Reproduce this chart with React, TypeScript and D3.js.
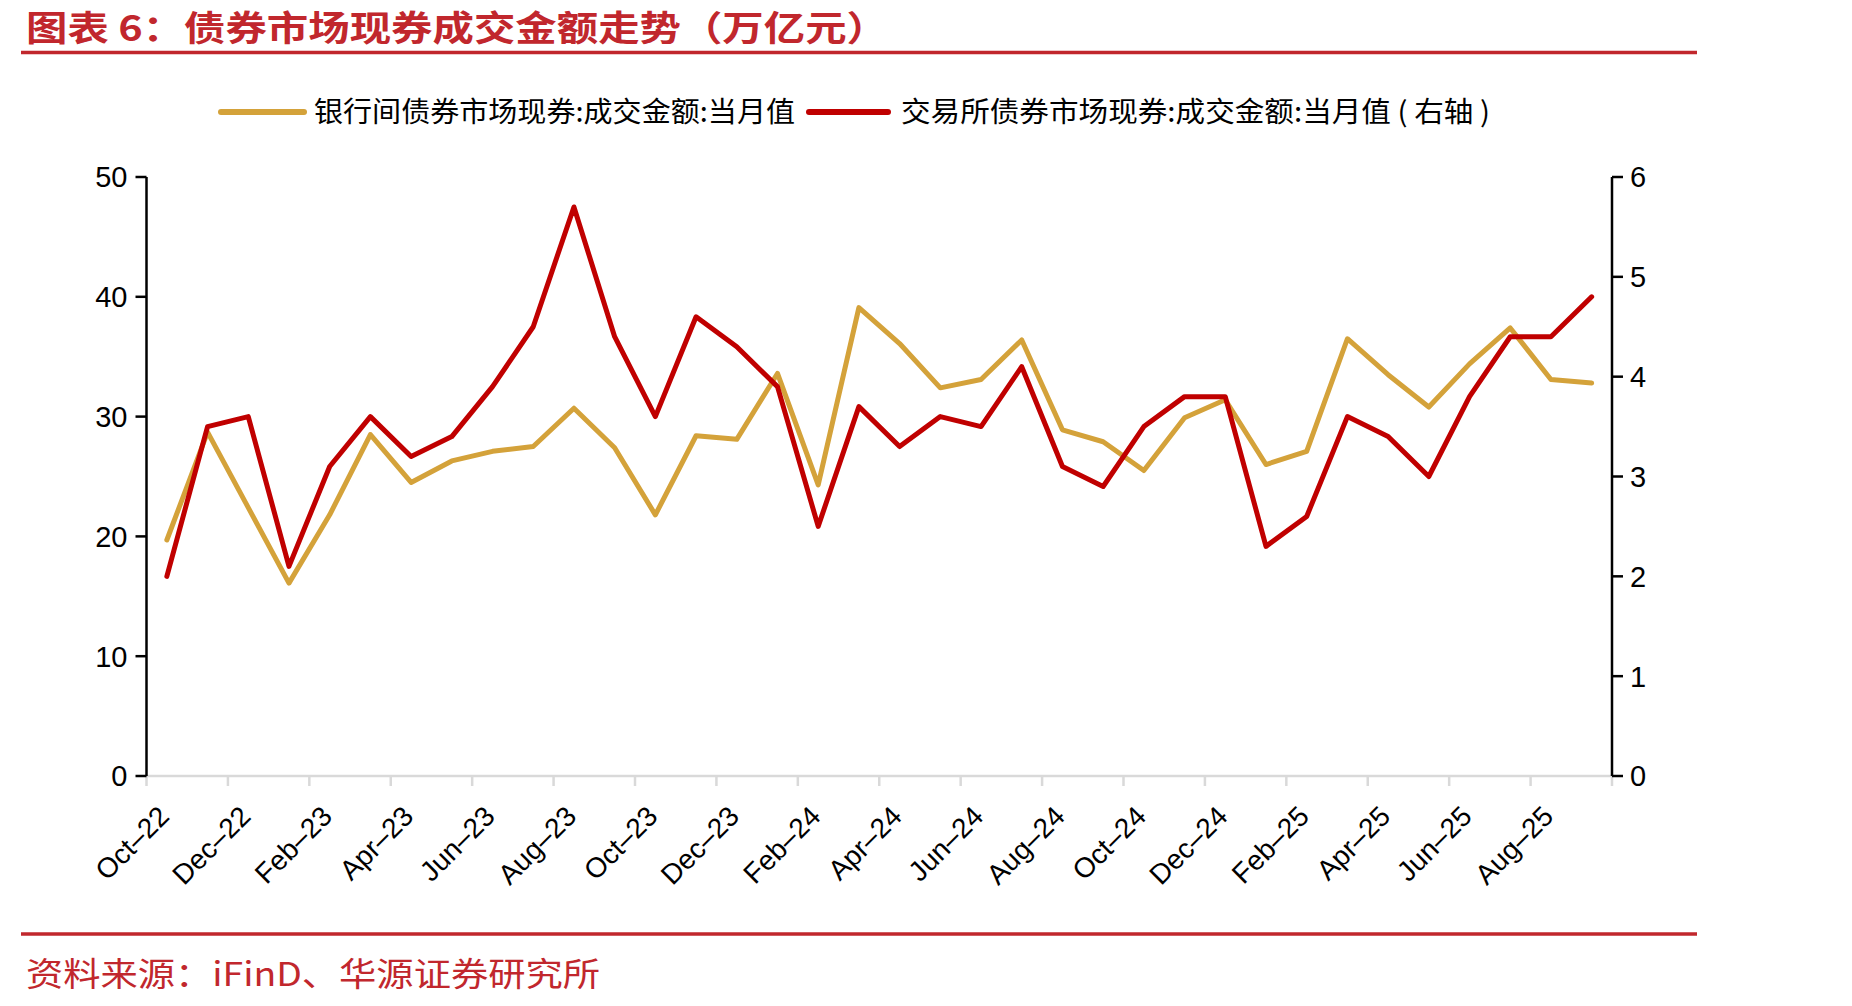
import React from 'react';
import * as d3 from 'd3';

const W = 1852;
const H = 1006;
const PLOT = { left: 146.5, right: 1612, top: 177, bottom: 776 };

const months = [
  'Oct–22', 'Nov–22', 'Dec–22',
  'Jan–23', 'Feb–23', 'Mar–23', 'Apr–23', 'May–23', 'Jun–23', 'Jul–23', 'Aug–23', 'Sep–23', 'Oct–23', 'Nov–23', 'Dec–23',
  'Jan–24', 'Feb–24', 'Mar–24', 'Apr–24', 'May–24', 'Jun–24', 'Jul–24', 'Aug–24', 'Sep–24', 'Oct–24', 'Nov–24', 'Dec–24',
  'Jan–25', 'Feb–25', 'Mar–25', 'Apr–25', 'May–25', 'Jun–25', 'Jul–25', 'Aug–25', 'Sep–25',
];

// 银行间 (left axis, 万亿元)
const interbank = [
  19.7, 28.7, 22.4, 16.1, 21.8, 28.5, 24.5, 26.3, 27.1, 27.5, 30.7, 27.4,
  21.8, 28.4, 28.1, 33.6, 24.3, 39.1, 36.1, 32.4, 33.1, 36.4, 28.9, 27.9,
  25.5, 29.9, 31.4, 26.0, 27.1, 36.5, 33.5, 30.8, 34.4, 37.4, 33.1, 32.8,
];

// 交易所 (right axis, 万亿元)
const exchange = [
  2.0, 3.5, 3.6, 2.1, 3.1, 3.6, 3.2, 3.4, 3.9, 4.5, 5.7, 4.4,
  3.6, 4.6, 4.3, 3.9, 2.5, 3.7, 3.3, 3.6, 3.5, 4.1, 3.1, 2.9,
  3.5, 3.8, 3.8, 2.3, 2.6, 3.6, 3.4, 3.0, 3.8, 4.4, 4.4, 4.8,
];

const leftTicks = [0, 10, 20, 30, 40, 50];
const rightTicks = [0, 1, 2, 3, 4, 5, 6];

const GOLD = '#d4a23a';
const RED = '#c00000';
const BRAND = '#c1272d';

const TITLE = '图表 6：债券市场现券成交金额走势（万亿元）';
const LEGEND1 = '银行间债券市场现券:成交金额:当月值';
const LEGEND2 = '交易所债券市场现券:成交金额:当月值 ( 右轴 )';
const SOURCE = '资料来源：iFinD、华源证券研究所';

const NUM_FONT = "'Liberation Sans', Arial, sans-serif";
const CJK_FONT = "'Noto Sans CJK SC', sans-serif";

export default function App() {
  const x = d3.scaleBand<string>().domain(months).range([PLOT.left, PLOT.right]).padding(0);
  const bw = x.bandwidth();
  const cx = (m: string) => (x(m) as number) + bw / 2;

  const yL = d3.scaleLinear().domain([0, 50]).range([PLOT.bottom, PLOT.top]);
  const yR = d3.scaleLinear().domain([0, 6]).range([PLOT.bottom, PLOT.top]);

  const lineL = d3.line<number>().x((_, i) => cx(months[i])).y(d => yL(d));
  const lineR = d3.line<number>().x((_, i) => cx(months[i])).y(d => yR(d));

  // x ticks at every 2nd month boundary, plus the right edge
  const tickXs = months.filter((_, i) => i % 2 === 0).map(m => x(m) as number).concat([PLOT.right]);
  const labelMonths = months.filter((_, i) => i % 2 === 0);

  return (
    <div style={{ position: 'absolute', left: 0, top: 0, width: W, height: H, background: '#fff' }}>
      <svg width={W} height={H} style={{ display: 'block' }}>
        <rect width={W} height={H} fill="#fff" />

        {/* title */}
        <text x={26} y={41} fontFamily={CJK_FONT} fontWeight={700} fontSize={35} fill={BRAND}
          textLength={862} lengthAdjust="spacingAndGlyphs">{TITLE}</text>
        <line x1={21} x2={1697} y1={52.5} y2={52.5} stroke={BRAND} strokeWidth={3.5} />

        {/* legend */}
        <line x1={221} x2={304} y1={112} y2={112} stroke={GOLD} strokeWidth={6} strokeLinecap="round" />
        <text x={314} y={122} fontFamily={CJK_FONT} fontSize={28} fill="#000"
          textLength={481} lengthAdjust="spacingAndGlyphs">{LEGEND1}</text>
        <line x1={809} x2={888} y1={112} y2={112} stroke={RED} strokeWidth={6} strokeLinecap="round" />
        <text x={901} y={122} fontFamily={CJK_FONT} fontSize={28} fill="#000"
          textLength={589} lengthAdjust="spacingAndGlyphs">{LEGEND2}</text>

        {/* x axis */}
        <line x1={PLOT.left} x2={PLOT.right} y1={PLOT.bottom} y2={PLOT.bottom} stroke="#d9d9d9" strokeWidth={2.5} />
        {tickXs.map((tx, i) => (
          <line key={i} x1={tx} x2={tx} y1={PLOT.bottom} y2={PLOT.bottom + 10} stroke="#d9d9d9" strokeWidth={2.5} />
        ))}
        {labelMonths.map(m => (
          <text key={m} transform={`translate(${cx(m) + 4},${PLOT.bottom + 42}) rotate(-45)`}
            textAnchor="end" fontFamily={NUM_FONT} fontSize={28} fill="#000">{m}</text>
        ))}

        {/* left axis */}
        <line x1={PLOT.left} x2={PLOT.left} y1={PLOT.top} y2={PLOT.bottom} stroke="#000" strokeWidth={2.5} />
        {leftTicks.map(t => (
          <g key={t}>
            <line x1={PLOT.left - 11} x2={PLOT.left} y1={yL(t)} y2={yL(t)} stroke="#000" strokeWidth={2.5} />
            <text x={PLOT.left - 19} y={yL(t)} dy="0.36em" textAnchor="end"
              fontFamily={NUM_FONT} fontSize={29} fill="#000">{t}</text>
          </g>
        ))}

        {/* right axis */}
        <line x1={PLOT.right} x2={PLOT.right} y1={PLOT.top} y2={PLOT.bottom} stroke="#000" strokeWidth={2.5} />
        {rightTicks.map(t => (
          <g key={t}>
            <line x1={PLOT.right} x2={PLOT.right + 11} y1={yR(t)} y2={yR(t)} stroke="#000" strokeWidth={2.5} />
            <text x={PLOT.right + 18} y={yR(t)} dy="0.36em" textAnchor="start"
              fontFamily={NUM_FONT} fontSize={29} fill="#000">{t}</text>
          </g>
        ))}

        {/* series */}
        <path d={lineL(interbank) || ''} fill="none" stroke={GOLD} strokeWidth={5} strokeLinejoin="round" strokeLinecap="round" />
        <path d={lineR(exchange) || ''} fill="none" stroke={RED} strokeWidth={5} strokeLinejoin="round" strokeLinecap="round" />

        {/* footer */}
        <line x1={21} x2={1697} y1={934} y2={934} stroke={BRAND} strokeWidth={3.5} />
        <text x={26} y={986} fontFamily={CJK_FONT} fontSize={33} fill={BRAND}
          textLength={574} lengthAdjust="spacingAndGlyphs">{SOURCE}</text>
      </svg>
    </div>
  );
}
